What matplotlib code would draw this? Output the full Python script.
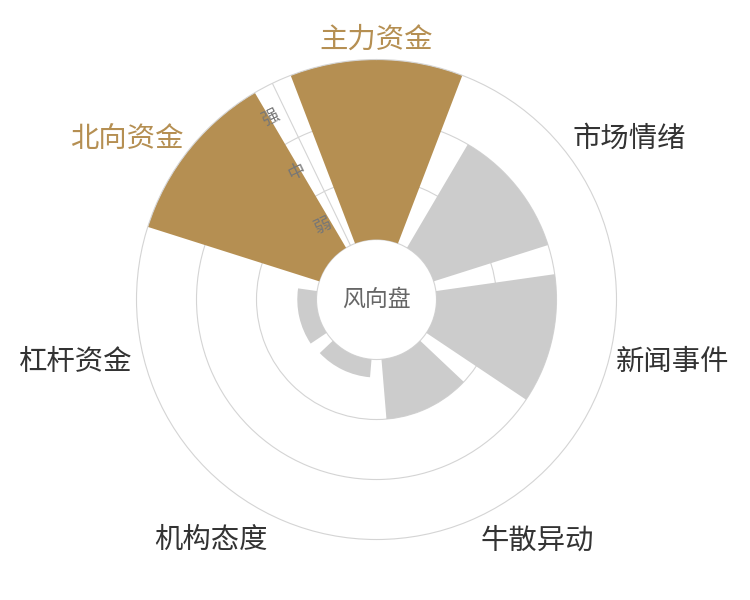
import numpy as np
import matplotlib
matplotlib.use("Agg")
from matplotlib import pyplot as plt

plt.rcParams["font.family"] = ["Noto Sans CJK SC", "DejaVu Sans"]

# categories clockwise from the top
categories = ["主力资金", "市场情绪", "新闻事件", "牛散异动", "机构态度", "杠杆资金", "北向资金"]
# strength level: 0 = hole edge, 1 = 弱, 2 = 中, 3 = 强
levels = [3, 2, 2, 1, 0.3, 0.32, 3]
highlight = [True, False, False, False, False, False, True]
level_labels = ["弱", "中", "强"]
center_title = "风向盘"

gold = "#b58f52"
gray_bar = "#cccccc"
grid_col = "#d4d4d4"

n = len(categories)
step = 2 * np.pi / n
theta = np.arange(n) * step
hole = 1.0

fig = plt.figure(figsize=(7.5, 6), dpi=100)
ax = fig.add_axes([0.182, 0.1008, 0.64, 0.8], projection="polar")
ax.set_theta_zero_location("N")
ax.set_theta_direction(-1)
ax.set_ylim(0, hole + 3)
ax.set_xticks([])
ax.set_yticks([hole, hole + 1, hole + 2])
ax.set_yticklabels([])
ax.grid(True, color=grid_col, lw=0.8)
ax.spines["polar"].set_color(grid_col)
ax.spines["polar"].set_linewidth(0.8)
ax.set_axisbelow(True)

colors = [gold if h else gray_bar for h in highlight]
ax.bar(theta, levels, width=step * 0.815, bottom=hole, color=colors,
       edgecolor="none", zorder=2)

# radius axis line in the gap before the first category
ax_th = -step / 2
ax.plot([ax_th, ax_th], [hole, hole + 3], color=grid_col, lw=0.8, zorder=1)
for i, lab in enumerate(level_labels):
    ax.annotate(lab, xy=(ax_th, hole + i + 0.5), xytext=(-10.7, -5.2),
                textcoords="offset points", ha="center", va="center",
                rotation=25.7, fontsize=12.5, color="#777777", zorder=3)

# category labels
for th, lab, h in zip(theta, categories, highlight):
    ang = np.pi / 2 - th
    c, s = np.cos(ang), np.sin(ang)
    ha = "left" if c > 0.2 else ("right" if c < -0.2 else "center")
    dx = -3.5 if (s < 0 and c > 0) else (2 if (s > 0 and c < -0.2) else 0)
    ax.annotate(lab, xy=(th, 4.17), xytext=(dx, 9.5 * s - 2.5), textcoords="offset points",
                ha=ha, va="center", fontsize=20.4,
                color=gold if h else "#333333", annotation_clip=False)

ax.text(0, 0, center_title, ha="center", va="center", fontsize=16.5, color="#666666")

fig.savefig("out.png", dpi=100)
